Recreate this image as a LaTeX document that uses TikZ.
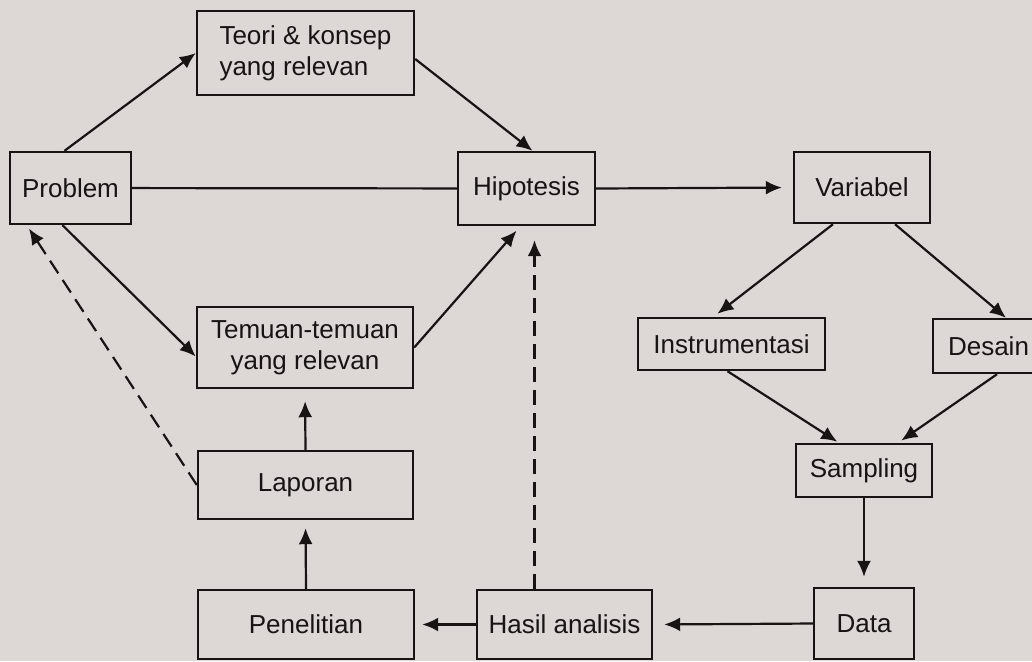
\documentclass[tikz,border=0pt]{standalone}
\usepackage{fontspec}
\setmainfont{Liberation Sans}
\usepackage{xcolor}
\usetikzlibrary{arrows.meta}
\definecolor{kertas}{RGB}{221,215,213}
\definecolor{tinta}{RGB}{24,20,20}
\tikzset{
  Kotak/.style={draw=tinta,line width=1.2pt,inner sep=2pt}, % für Kästen
  Garis/.style={draw=tinta,line width=1.1pt}, % für Linien
  Panah/.style={Garis,shorten >=#1,->}, % für Pfeile
  PanahPutus/.style={Panah=#1,dash pattern=on 7.5pt off 4pt} % gestrichelte Pfeile
}

\begin{document}
\begin{tikzpicture}[
x=0.5pt, y=-0.5pt,
font=\fontsize{13}{15.5}\selectfont,
text=tinta,
>={Latex[length=8pt,width=7pt]} % Voreinstellung für Pfeilspitzen
]
\useasboundingbox[fill=kertas] (0,0) rectangle (1032,661);

%Kästen
\node[Kotak, minimum width=108.5pt, minimum height=42pt, align=left] (Teori) at (305.5,53) {Teori \& konsep\\yang relevan};
\node[Kotak, minimum width=60.5pt, minimum height=36pt] (Problem) at (70.5,188) {Problem};
\node[Kotak, minimum width=68.5pt, minimum height=36.5pt] (Hipotesis) at (526.5,188.5) {Hipotesis};
\node[Kotak, minimum width=108pt, minimum height=40.5pt, align=center] (Temuan) at (305,347.5) {Temuan-temuan\\yang relevan};
\node[Kotak, minimum width=107.5pt, minimum height=34pt] (Laporan) at (305.5,485) {Laporan};
\node[Kotak, minimum width=108pt, minimum height=34.5pt] (Penelitian) at (306,624.5) {Penelitian};
\node[Kotak, minimum width=87.5pt, minimum height=34.5pt] (Hasil) at (564.5,624.5) {Hasil analisis};
\node[Kotak, minimum width=68pt, minimum height=35.5pt] (Variabel) at (862,187.5) {Variabel};
\node[Kotak, minimum width=93.5pt, minimum height=26pt] (Instrumentasi) at (731.5,344) {Instrumentasi};
\node[Kotak, minimum width=55.5pt, minimum height=27pt] (Desain) at (988.5,346) {Desain};
\node[Kotak, minimum width=68pt, minimum height=26.5pt] (Sampling) at (864,470.5) {Sampling};
\node[Kotak, minimum width=50pt, minimum height=35.5pt] (Data) at (864,623.5) {Data};

%Pfeile
\draw[Panah=0pt] ([xshift=-3pt]Problem.north) -- (Teori.west);
\draw[Panah=0pt] ([yshift=-3pt]Teori.east) -- ([xshift=3pt]Hipotesis.north);
\draw[Garis] (Problem) -- (Hipotesis);
\draw[Panah=0pt] ([xshift=-4pt]Problem.south) -- ([yshift=-4.5pt]Temuan.west);
\draw[Panah=3pt] (Temuan.east) -- ([xshift=-3pt]Hipotesis.south);
\draw[Panah=6pt] (Laporan.north) -- (Temuan.south);
\draw[Panah=4pt] (Penelitian.north) -- (Laporan.south);
\draw[Panah=3.5pt] (Hasil.west) -- (Penelitian.east);
\draw[Panah=5.5pt] (Data.west) -- (Hasil.east);
\draw[Panah=5.5pt] (Hipotesis.east) -- (Variabel.west);
\draw[Panah=2.5pt] ([xshift=-14.5pt]Variabel.south) -- ([xshift=-9pt]Instrumentasi.north);
\draw[Panah=0pt] ([xshift=16.5pt]Variabel.south) -- ([xshift=8.75pt]Desain.north);
\draw[Panah=1pt] ([xshift=-2pt]Instrumentasi.south) -- ([xshift=-12.5pt]Sampling.north);
\draw[Panah=2pt] ([xshift=4.25pt]Desain.south) -- ([xshift=17pt]Sampling.north);
\draw[Panah=5pt] (Sampling.south) -- (Data.north);

%gestrichelte Pfeile
\draw[PanahPutus=2pt] (Laporan.west) -- ([xshift=9pt]Problem.south west);
\draw[PanahPutus=7pt] ([xshift=-15pt]Hasil.north) -- ([xshift=-15pt]Hasil.north |- Hipotesis.south);

\end{tikzpicture}
\end{document}
